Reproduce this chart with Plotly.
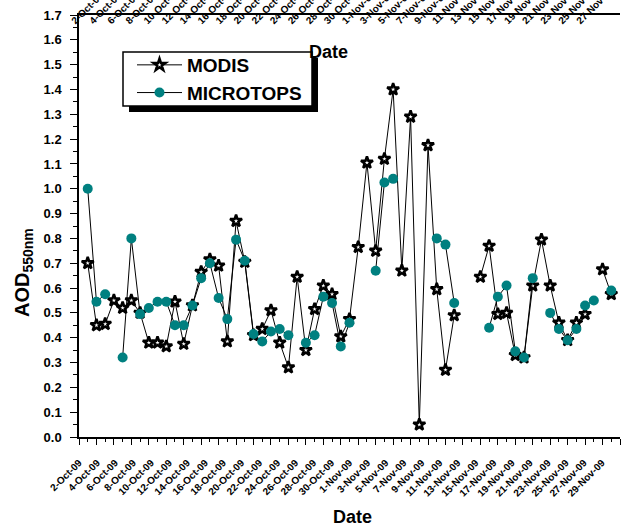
import numpy as np
import plotly.graph_objects as go

# Daily observations, 1-Oct-09 .. 30-Nov-09 (observation index 1..61)
obs = np.arange(1, 62)

modis = [0.70, 0.45, 0.455, 0.55, 0.52, 0.55, 0.50, 0.38, 0.38, 0.365,
         0.545, 0.375, 0.53, 0.665, 0.715, 0.69, 0.385, 0.87, 0.705, 0.41,
         0.435, 0.51, 0.38, 0.28, 0.645, 0.35, 0.515, 0.61, 0.575, 0.405,
         0.475, 0.765, 1.105, 0.75, 1.12, 1.40, 0.67, 1.29, 0.05, 1.175,
         0.595, 0.27, 0.49, None, None, 0.645, 0.77, 0.495, 0.50, 0.33,
         0.32, 0.61, 0.795, 0.61, 0.46, 0.39, 0.46, 0.495, None, 0.675,
         0.575]

microtops = [1.00, 0.545, 0.575, None, 0.32, 0.80, 0.495, 0.52, 0.545, 0.545,
             0.45, 0.45, 0.53, 0.64, 0.70, 0.56, 0.475, 0.795, 0.71, 0.415,
             0.385, 0.425, 0.435, 0.41, None, 0.38, 0.41, 0.565, 0.54, 0.365,
             0.46, None, None, 0.67, 1.025, 1.04, None, None, None, None,
             0.80, 0.775, 0.54, None, None, None, 0.44, 0.565, 0.61, 0.345,
             0.32, 0.64, None, 0.50, 0.435, 0.39, 0.435, 0.53, 0.55, None,
             0.59]

tick_labels = ["2-Oct-09", "4-Oct-09", "6-Oct-09", "8-Oct-09", "10-Oct-09",
               "12-Oct-09", "14-Oct-09", "16-Oct-09", "18-Oct-09", "20-Oct-09",
               "22-Oct-09", "24-Oct-09", "26-Oct-09", "28-Oct-09", "30-Oct-09",
               "1-Nov-09", "3-Nov-09", "5-Nov-09", "7-Nov-09", "9-Nov-09",
               "11-Nov-09", "13-Nov-09", "15-Nov-09", "17-Nov-09", "19-Nov-09",
               "21-Nov-09", "23-Nov-09", "25-Nov-09", "27-Nov-09", "29-Nov-09"]

X_SPAN = 62
label_pos = np.arange(len(tick_labels)) * X_SPAN / len(tick_labels)

W, H = 621, 529
L, R, T, B = 79, 1, 15, 92
PW, PH = W - L - R, H - T - B


def px(x):
    return (x - L) / PW


def py(y):
    return (H - B - y) / PH


FONT = "Liberation Sans, Arial, sans-serif"
TEAL = "#008080"

fig = go.Figure()
fig.add_trace(go.Scatter(
    x=obs, y=modis, name="MODIS", mode="lines+markers",
    line=dict(color="black", width=1),
    marker=dict(symbol="star", size=9, color="white",
                line=dict(color="black", width=2.5)),
))
fig.add_trace(go.Scatter(
    x=obs, y=microtops, name="MICROTOPS", mode="lines+markers",
    line=dict(color="black", width=1),
    marker=dict(symbol="circle", size=10, color=TEAL,
                line=dict(color=TEAL, width=0)),
))
# helper traces so the label axes are registered
fig.add_trace(go.Scatter(x=[], y=[], xaxis="x2", showlegend=False, hoverinfo="skip"))
fig.add_trace(go.Scatter(x=[], y=[], xaxis="x3", showlegend=False, hoverinfo="skip"))

tickfont_x = dict(family=FONT, size=10, color="black", weight="bold")

# legend frame with drop shadow (pixel box: 123..312 x 52..106)
legend_box = (123, 52, 312, 106)
shadow = 6

fig.update_layout(
    width=W, height=H,
    margin=dict(l=L, r=R, t=T, b=B, autoexpand=False),
    paper_bgcolor="white", plot_bgcolor="white",
    font=dict(family=FONT, color="black"),
    showlegend=True,
    legend=dict(
        x=px(132), y=py(46), xanchor="left", yanchor="top",
        bgcolor="rgba(0,0,0,0)", borderwidth=0,
        font=dict(family=FONT, size=19, color="black", weight="bold"),
        itemwidth=45, tracegroupgap=0,
    ),
    xaxis=dict(
        range=[0, X_SPAN], showgrid=False, zeroline=False,
        showline=True, linecolor="black", linewidth=1.5,
        tickmode="linear", tick0=0, dtick=2,
        ticks="outside", ticklen=6, tickwidth=1.2, tickcolor="black",
        minor=dict(dtick=1, tick0=0, ticks="outside", ticklen=3,
                   tickwidth=1.2, tickcolor="black"),
        showticklabels=False, automargin=False,
    ),
    xaxis2=dict(
        overlaying="x", side="bottom", anchor="y",
        range=[0, X_SPAN], showgrid=False, zeroline=False, showline=False,
        tickmode="array", tickvals=label_pos, ticktext=tick_labels,
        ticks="outside", ticklen=15, tickcolor="rgba(0,0,0,0)",
        tickangle=-45, tickfont=tickfont_x, automargin=False,
    ),
    xaxis3=dict(
        overlaying="x", side="top", anchor="y",
        range=[0, X_SPAN], showgrid=False, zeroline=False,
        showline=True, linecolor="black", linewidth=1.5,
        tickmode="array", tickvals=label_pos, ticktext=tick_labels,
        ticks="", tickangle=-45, tickfont=tickfont_x,
        ticklabelstandoff=-17, ticklabelshift=-7, automargin=False,
    ),
    yaxis=dict(
        range=[0, 1.7], showgrid=False, zeroline=False,
        showline=True, linecolor="black", linewidth=1.5,
        tickmode="linear", tick0=0, dtick=0.1, tickformat=".1f",
        ticks="outside", ticklen=7, tickwidth=1.2, tickcolor="black",
        minor=dict(dtick=0.05, tick0=0, ticks="outside", ticklen=4,
                   tickwidth=1.2, tickcolor="black"),
        tickfont=dict(family=FONT, size=13, color="black", weight="bold"),
        ticklabelstandoff=6, automargin=False,
    ),
    shapes=[
        dict(type="rect", xref="paper", yref="paper", layer="above",
             x0=px(legend_box[0] + shadow), x1=px(legend_box[2] + shadow),
             y0=py(legend_box[3] + shadow), y1=py(legend_box[1] + shadow),
             fillcolor="black", line=dict(width=0)),
        dict(type="rect", xref="paper", yref="paper", layer="above",
             x0=px(legend_box[0]), x1=px(legend_box[2]),
             y0=py(legend_box[3]), y1=py(legend_box[1]),
             fillcolor="white", line=dict(color="black", width=1.5)),
    ],
    annotations=[
        dict(text="Date", xref="paper", yref="paper", x=px(352), y=py(517),
             xanchor="center", yanchor="middle", showarrow=False,
             font=dict(family=FONT, size=18, color="black", weight="bold")),
        dict(text="Date", xref="paper", yref="paper", x=px(328), y=py(52),
             xanchor="center", yanchor="middle", showarrow=False,
             font=dict(family=FONT, size=18, color="black", weight="bold")),
        dict(text="AOD<sub>550nm</sub>", xref="paper", yref="paper",
             x=px(23), y=py(273), xanchor="center", yanchor="middle",
             textangle=-90, showarrow=False,
             font=dict(family=FONT, size=20, color="black", weight="bold")),
    ],
)

fig.write_html("out.html")
